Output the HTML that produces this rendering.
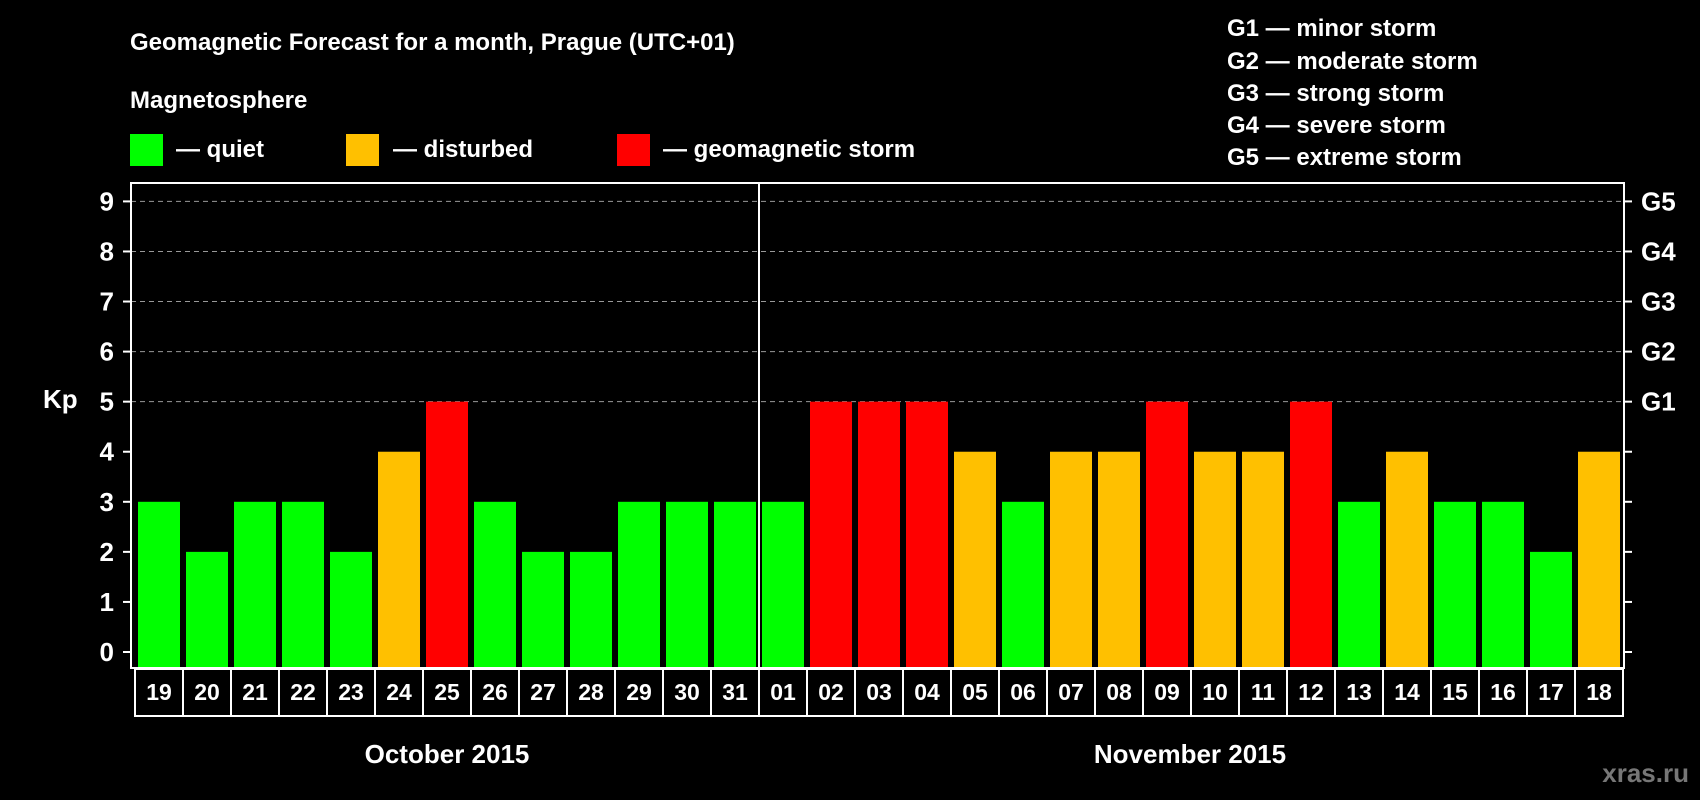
<!DOCTYPE html>
<html><head><meta charset="utf-8"><style>
html,body{margin:0;padding:0;background:#000;}
svg{display:block;font-family:"Liberation Sans",Arial,sans-serif;font-weight:bold;}
</style></head><body>
<svg id="chart" width="1700" height="800" viewBox="0 0 1700 800" xmlns="http://www.w3.org/2000/svg">
<rect x="0" y="0" width="1700" height="800" fill="#000"/>
<text x="130" y="50" fill="#fff" font-size="24">Geomagnetic Forecast for a month, Prague (UTC+01)</text>
<text x="130" y="108" fill="#fff" font-size="24">Magnetosphere</text>
<g><rect x="130" y="134" width="33" height="32" fill="#00ff00"/><text x="176" y="157" fill="#fff" font-size="24">— quiet</text></g>
<g><rect x="346" y="134" width="33" height="32" fill="#ffc000"/><text x="393" y="157" fill="#fff" font-size="24">— disturbed</text></g>
<g><rect x="617" y="134" width="33" height="32" fill="#ff0000"/><text x="663" y="157" fill="#fff" font-size="24">— geomagnetic storm</text></g>
<g fill="#fff" font-size="24">
<text x="1227" y="36">G1 — minor storm</text>
<text x="1227" y="69">G2 — moderate storm</text>
<text x="1227" y="101">G3 — strong storm</text>
<text x="1227" y="133">G4 — severe storm</text>
<text x="1227" y="165">G5 — extreme storm</text>
</g>
<text x="43" y="408" fill="#fff" font-size="26">Kp</text>
<g id="grid"></g>
<g id="bars"></g>
<g id="axes"></g>
<text x="447" y="763" fill="#fff" font-size="26" text-anchor="middle">October 2015</text>
<text x="1190" y="763" fill="#fff" font-size="26" text-anchor="middle">November 2015</text>
<text x="1689" y="782" fill="#777" font-size="26" text-anchor="end">xras.ru</text>
</svg>
<script>
const days = ["19","20","21","22","23","24","25","26","27","28","29","30","31","01","02","03","04","05","06","07","08","09","10","11","12","13","14","15","16","17","18"];
const kpValues = [3,2,3,3,2,4,5,3,2,2,3,3,3,3,5,5,5,4,3,4,4,5,4,4,5,3,4,3,3,2,4];
const yTicks = [0,1,2,3,4,5,6,7,8,9];
const gLabels = ["","","","","","G1","G2","G3","G4","G5"];
const monthSplitIndex = 13;

const NS="http://www.w3.org/2000/svg";
const L=131,R=1624,T=183,B=668,BOXL=135,BOXB=716;
const y0=652,y9=201.4;
function yScale(v){return y0-(y0-y9)*v/9;}
const pitch=(BOXR()-BOXL)/days.length;
function BOXR(){return 1623;}
function xBar(i){return 138+pitch*i;}
function mk(tag,attrs,parent){const e=document.createElementNS(NS,tag);for(const k in attrs)e.setAttribute(k,attrs[k]);parent.appendChild(e);return e;}
const grid=document.getElementById('grid'),bars=document.getElementById('bars'),axes=document.getElementById('axes');
function color(v){return v>=5?"#ff0000":(v>=4?"#ffc000":"#00ff00");}

yTicks.forEach(function(t){
  const y=yScale(t);
  if(t>=5){
    const g=mk('line',{x1:L,x2:R,y1:y,y2:y,stroke:"#999","stroke-width":1,"stroke-dasharray":"5,4"},grid);
    
    
  }
  mk('line',{x1:L-8,x2:L,y1:y,y2:y,stroke:"#fff","stroke-width":2},axes);
  mk('line',{x1:R,x2:R+8,y1:y,y2:y,stroke:"#fff","stroke-width":2},axes);
  const lab=mk('text',{x:114,y:y+9,fill:"#fff","font-size":26,"text-anchor":"end"},axes);
  lab.textContent=t;
  
  
  if(gLabels[t]){
    const gl=mk('text',{x:1641,y:y+9,fill:"#fff","font-size":26},axes);
    gl.textContent=gLabels[t];
    
    
  }
});

kpValues.forEach(function(v,i){
  const y=yScale(v);
  const b=mk('rect',{x:xBar(i),y:y,width:42,height:(B-1)-y,fill:color(v)},bars);
  
  
});

// frame
const fr=mk('rect',{x:L,y:T,width:R-L,height:B-T,fill:"none",stroke:"#fff","stroke-width":2},axes);


// day boxes
days.forEach(function(d,i){
  const bx=BOXL+pitch*i;
  const r=mk('rect',{x:bx,y:B+1,width:pitch,height:BOXB-B-1,fill:"none",stroke:"#fff","stroke-width":2},axes);
  
  
  const t=mk('text',{x:bx+pitch/2,y:700,fill:"#fff","font-size":23,"text-anchor":"middle"},axes);
  t.textContent=d;
  
  
});
// month divider
const sx=BOXL+pitch*monthSplitIndex;
const dv=mk('line',{x1:sx,x2:sx,y1:T,y2:B,stroke:"#fff","stroke-width":2},axes);


</script>
</body></html>
